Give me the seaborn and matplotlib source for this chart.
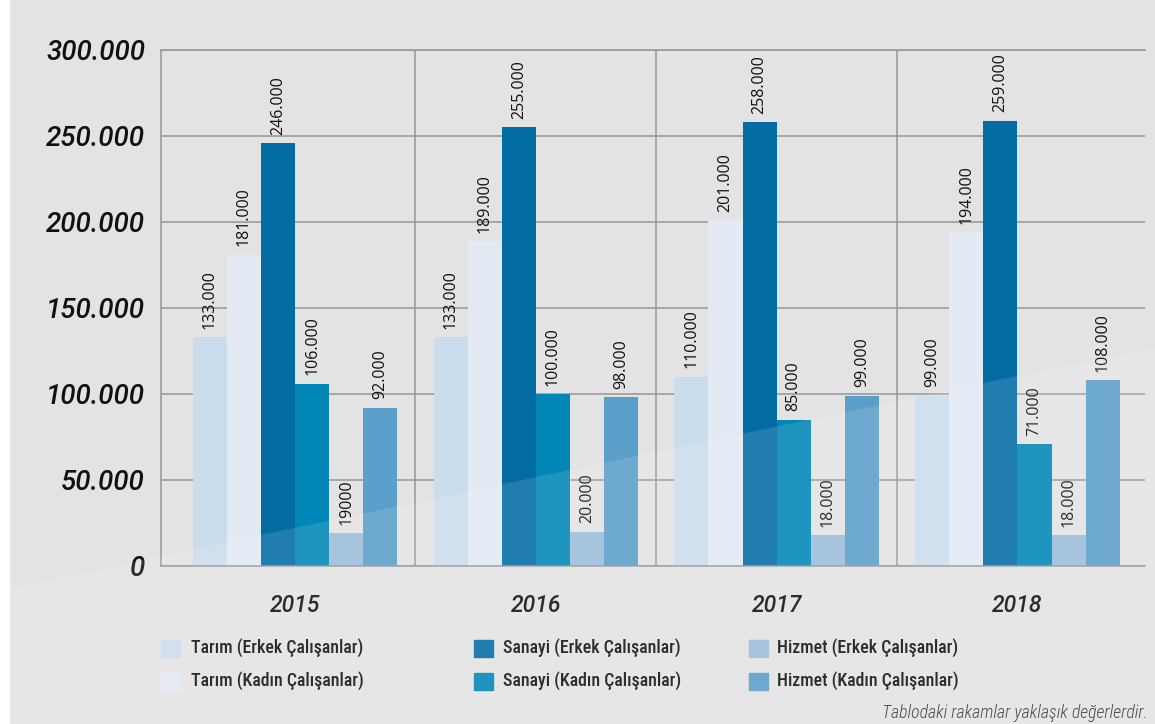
import numpy as np
import pandas as pd
import seaborn as sns
import matplotlib.pyplot as plt
from matplotlib.patches import Rectangle, Polygon
from matplotlib.ticker import FuncFormatter

# values
years = ['2015', '2016', '2017', '2018']
series = ['Tarım (Erkek Çalışanlar)', 'Tarım (Kadın Çalışanlar)',
          'Sanayi (Erkek Çalışanlar)', 'Sanayi (Kadın Çalışanlar)',
          'Hizmet (Erkek Çalışanlar)', 'Hizmet (Kadın Çalışanlar)']
tarim_erkek  = [133000, 133000, 110000, 99000]
tarim_kadin  = [181000, 189000, 201000, 194000]
sanayi_erkek = [246000, 255000, 258000, 259000]
sanayi_kadin = [106000, 100000, 85000, 71000]
hizmet_erkek = [19000, 20000, 18000, 18000]
hizmet_kadin = [92000, 98000, 99000, 108000]
colors = ['#cbdcec', '#e3eaf4', '#036ca3', '#0086b7', '#9abcd9', '#5a9fc9']

W, H = 1155, 724
BG = '#e3e3e3'
GRID = '#959595'
INK = '#111111'
NARROW = ['Roboto Condensed', 'Liberation Sans Narrow', 'Roboto', 'DejaVu Sans']

def dotted( v ):
    return '0' if v == 0 else f'{int(v):,}'.replace(',', '.')

values = [tarim_erkek, tarim_kadin, sanayi_erkek, sanayi_kadin, hizmet_erkek, hizmet_kadin]
df = pd.DataFrame( [(y, s, v[i]) for s, v in zip(series, values) for i, y in enumerate(years)],
                   columns=['year', 'series', 'value'] )

sns.set_style('white')
plt.rcParams['font.family'] = ['Roboto', 'Liberation Sans', 'DejaVu Sans']
plt.rcParams['text.color'] = INK
plt.rcParams['xtick.color'] = INK
plt.rcParams['ytick.color'] = INK

fig = plt.figure( figsize=(W / 100, H / 100), dpi=100, facecolor=BG )
ax = fig.add_axes( [161 / W, 1 - 566 / H, (1145 - 161) / W, (566 - 50) / H] )
ax.set_facecolor('none')

# white strip on the left edge
fig.add_artist( Rectangle( (0, 0), 9 / W, 1, transform=fig.transFigure, color='white', zorder=-1 ) )

sns.barplot( data=df, x='year', y='value', hue='series', hue_order=series, order=years,
             palette=dict(zip(series, colors)), saturation=1, width=0.85, legend=False,
             linewidth=0, edgecolor='none', ax=ax )

for cont, s in zip( ax.containers, values ):
    labels = [dotted(v) for v in s]
    if s is hizmet_erkek:
        labels[0] = '19000'
    ax.bar_label( cont, labels=labels, rotation=90, padding=6, fontsize=11.5,
                  family='Open Sans', color=INK )

ax.set_xlim( -0.557, 3.53 )
ax.set_ylim( 0, 300000 )
ax.set_yticks( np.arange(0, 300001, 50000) )
ax.yaxis.set_major_formatter( FuncFormatter( lambda v, p: dotted(v) ) )
ax.set_axisbelow(True)
ax.grid( axis='y', color=GRID, linewidth=1.1 )
for xv in [0.5, 1.5, 2.5]:
    ax.axvline( xv, color=GRID, linewidth=1.1, zorder=0 )
for side in ['left', 'top', 'bottom']:
    ax.spines[side].set_color(GRID)
    ax.spines[side].set_linewidth(1.1)
ax.spines['right'].set_visible(False)
ax.tick_params( axis='y', length=0, pad=11.5, labelsize=20 )
ax.tick_params( axis='x', length=0, pad=20, labelsize=16.5 )
for t in ax.get_yticklabels() + ax.get_xticklabels():
    t.set_fontstyle('italic')
    t.set_fontweight('medium')
ax.set_xlabel('')
ax.set_ylabel('')

# legend in three columns
leg_x = [(161, 191), (474, 503), (749, 777)]
leg_y = [648, 681]
for i, (s, c) in enumerate( zip(series, colors) ):
    (sx, tx), ty = leg_x[i // 2], leg_y[i % 2]
    fig.add_artist( Rectangle( (sx / W, 1 - (ty + 9) / H), 19 / W, 17 / H,
                               transform=fig.transFigure, color=c ) )
    fig.text( tx / W, 1 - ty / H, s, va='center', ha='left', fontsize=12.9,
              weight='medium', family=NARROW )

fig.text( 1148 / W, 1 - 713 / H, 'Tablodaki rakamlar yaklaşık değerlerdir.', ha='right', va='center',
          fontsize=12.8, style='italic', weight='light', color='#333333', family=NARROW )

# light diagonal sheen over the lower left
fig.add_artist( Polygon( [(9 / W, 1 - 588 / H), (1, 1 - 347 / H), (1, 0), (9 / W, 0)],
                         closed=True, transform=fig.transFigure, color='white', alpha=0.12,
                         linewidth=0, zorder=10 ) )

plt.savefig( 'out.png', dpi=100, facecolor=BG )
